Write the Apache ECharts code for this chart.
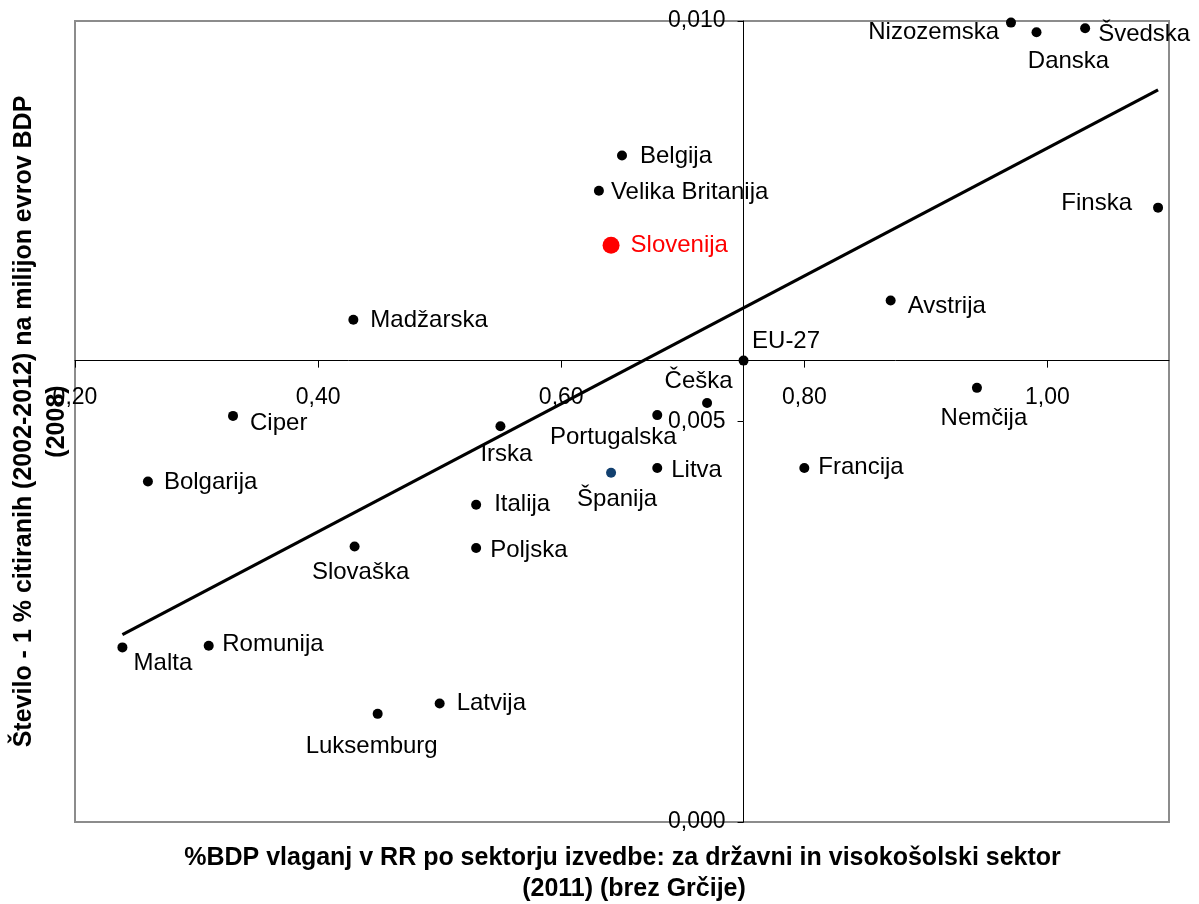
<!DOCTYPE html>
<html>
<head>
<meta charset="utf-8">
<script src="https://cdn.jsdelivr.net/npm/echarts@6/dist/echarts.min.js"></script>
<style>
html,body{margin:0;padding:0;background:#ffffff;}
#chart{width:1199px;height:904px;}
</style>
</head>
<body>
<div id="chart"></div>
<script>
// ---------------- data ----------------
const countries = ['Nizozemska','Danska','Švedska','Belgija','Velika Britanija','Slovenija','Finska','Madžarska','Avstrija','EU-27','Češka','Portugalska','Nemčija','Ciper','Irska','Bolgarija','Španija','Litva','Francija','Italija','Poljska','Slovaška','Malta','Romunija','Latvija','Luksemburg'];
const rdShare = [0.970,0.991,1.031,0.650,0.631,0.641,1.091,0.429,0.871,0.750,0.720,0.679,0.942,0.330,0.550,0.260,0.641,0.679,0.800,0.530,0.530,0.430,0.239,0.310,0.500,0.449];
const citations = [0.00998,0.00986,0.00991,0.00832,0.00788,0.00720,0.00767,0.00627,0.00651,0.00576,0.00523,0.00508,0.00542,0.00507,0.00494,0.00425,0.00436,0.00442,0.00442,0.00396,0.00342,0.00344,0.00218,0.00220,0.00148,0.00135];
const trendX = [0.239, 1.091];
const trendY = [0.00234, 0.00914];
const xTicks = [0.2, 0.4, 0.6, 0.8, 1.0];
const yTicks = [0, 0.005, 0.010];
const crossCountry = 'EU-27';
const xTitle1 = '%BDP vlaganj v RR po sektorju izvedbe: za državni in visokošolski sektor';
const xTitle2 = '(2011) (brez Grčije)';
const yTitle = 'Število - 1 % citiranih (2002-2012) na milijon evrov BDP\n(2008)';

// ---------------- styles ----------------
const FONT = '"Liberation Sans", Arial, sans-serif';
const specialStyle = {
  'Slovenija': {color: '#ff0000', size: 17, labelColor: '#ff0000'},
  'Španija': {color: '#12406f', size: 10, labelColor: '#000000'}
};
const labelPlace = {
  'Nizozemska': ['left', -7, 10],
  'Danska': ['inside', 32, 29],
  'Švedska': ['right', 8, 6.5],
  'Belgija': ['right', 13, 1],
  'Velika Britanija': ['right', 7, 1.5],
  'Slovenija': ['right', 11, 0],
  'Finska': ['left', -21, -4.5],
  'Madžarska': ['right', 12, 1],
  'Avstrija': ['right', 12, 6],
  'EU-27': ['inside', 42.5, -19.5],
  'Češka': ['inside', -8.5, -22],
  'Portugalska': ['inside', -44, 22.5],
  'Nemčija': ['inside', 7, 30.5],
  'Ciper': ['right', 12, 7],
  'Irska': ['inside', 6, 28],
  'Bolgarija': ['right', 11, 0.5],
  'Španija': ['inside', 6, 27],
  'Litva': ['right', 9, 2.5],
  'Francija': ['right', 9, -0.5],
  'Italija': ['right', 13, 0],
  'Poljska': ['right', 9, 2],
  'Slovaška': ['inside', 6, 26],
  'Malta': ['inside', 40.5, 16],
  'Romunija': ['right', 8.5, -1],
  'Latvija': ['right', 12, 0],
  'Luksemburg': ['inside', -6, 32.5]
};

const pointData = countries.map(function (name, i) {
  const sp = specialStyle[name] || {color: '#000000', size: 10, labelColor: '#000000'};
  const lp = labelPlace[name] || ['right', 8, 0];
  return {
    name: name,
    value: [rdShare[i], citations[i]],
    symbolSize: sp.size,
    itemStyle: {color: sp.color, opacity: 1},
    label: {
      show: true,
      formatter: name,
      position: lp[0],
      distance: 0,
      offset: [lp[1], lp[2]],
      color: sp.labelColor,
      opacity: 1,
      fontFamily: FONT,
      fontSize: 24,
      align: lp[0] === 'inside' ? 'center' : undefined,
      verticalAlign: 'middle'
    }
  };
});

const trendData = trendX.map(function (x, i) { return [x, trendY[i]]; });

const chart = echarts.init(document.getElementById('chart'), null, {renderer: 'canvas'});

const option = {
  animation: false,
  backgroundColor: '#ffffff',
  grid: {
    left: 75, right: 30, top: 21, bottom: 82,
    show: true,
    borderColor: '#8c8c8c',
    borderWidth: 2,
    backgroundColor: 'transparent',
    containLabel: false,
    outerBoundsMode: 'none'
  },
  xAxis: {
    type: 'value',
    min: 0.2,
    max: 1.1,
    interval: 0.2,
    position: 'bottom',
    offset: 0,
    splitLine: {show: false},
    axisLine: {show: true, onZero: false, lineStyle: {color: '#000000', width: 1}},
    axisTick: {show: true, length: 7, lineStyle: {color: '#000000', width: 1}, customValues: xTicks},
    axisLabel: {
      show: true,
      customValues: xTicks,
      margin: 26,
      color: '#000000',
      opacity: 1,
      fontWeight: 'normal',
      fontFamily: FONT,
      fontSize: 23,
      formatter: function (v) { return v.toFixed(2).replace('.', ','); }
    }
  },
  yAxis: {
    type: 'value',
    min: 0,
    max: 0.01,
    interval: 0.005,
    position: 'left',
    offset: 0,
    splitLine: {show: false},
    axisLine: {show: true, onZero: false, lineStyle: {color: '#000000', width: 1}},
    axisTick: {show: true, length: 6, lineStyle: {color: '#000000', width: 1}, customValues: yTicks},
    axisLabel: {
      show: true,
      customValues: yTicks,
      margin: 18,
      color: '#000000',
      opacity: 1,
      fontWeight: 'normal',
      fontFamily: FONT,
      fontSize: 23,
      formatter: function (v) { return v.toFixed(3).replace('.', ','); }
    }
  },
  graphic: [
    {
      type: 'text',
      x: 40.5, y: 421.5,
      rotation: Math.PI / 2,
      style: {
        text: yTitle,
        fill: '#000000',
        fontFamily: FONT,
        fontSize: 25,
        fontWeight: 'bold',
        lineHeight: 33,
        align: 'center',
        verticalAlign: 'middle'
      }
    },
    {
      type: 'text',
      x: 622.5, y: 858,
      style: {
        text: xTitle1,
        fill: '#000000',
        fontFamily: FONT,
        fontSize: 25,
        fontWeight: 'bold',
        align: 'center',
        verticalAlign: 'middle'
      }
    },
    {
      type: 'text',
      x: 634, y: 889,
      style: {
        text: xTitle2,
        fill: '#000000',
        fontFamily: FONT,
        fontSize: 25,
        fontWeight: 'bold',
        align: 'center',
        verticalAlign: 'middle'
      }
    }
  ],
  series: [
    {
      type: 'line',
      data: trendData,
      showSymbol: false,
      symbol: 'none',
      lineStyle: {color: '#000000', width: 3.2},
      z: 3,
      silent: true
    },
    {
      type: 'scatter',
      data: pointData,
      symbol: 'circle',
      itemStyle: {opacity: 1},
      z: 4
    }
  ]
};

chart.setOption(option);

// place the crossing axes at the EU-27 point
const ci = countries.indexOf(crossCountry);
const originPx = chart.convertToPixel({gridIndex: 0}, [0.2, 0]);
const crossPx = chart.convertToPixel({gridIndex: 0}, [rdShare[ci], citations[ci]]);
chart.setOption({
  xAxis: {offset: -(originPx[1] - crossPx[1])},
  yAxis: {offset: -(crossPx[0] - originPx[0])}
});
</script>
</body>
</html>
